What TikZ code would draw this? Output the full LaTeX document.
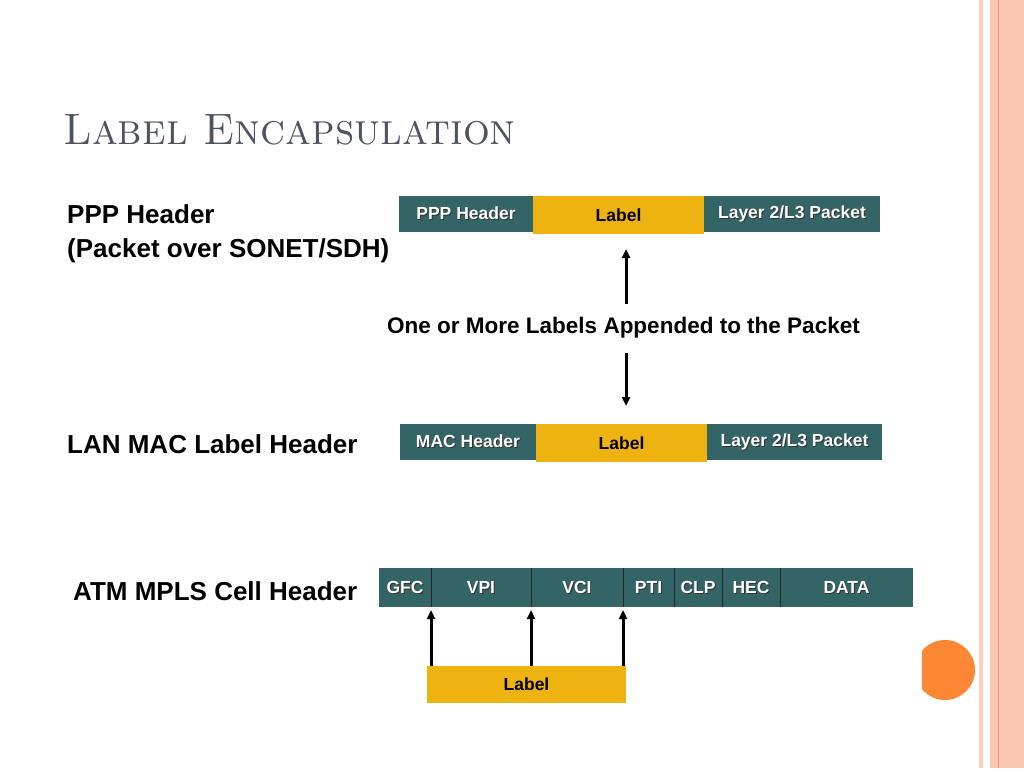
\documentclass[tikz,border=0pt]{standalone}
\usepackage{fontspec}
\usepackage{xcolor}
\usepackage{tikz}
\usetikzlibrary{positioning,arrows.meta}
\newfontfamily\arialfont{Liberation Sans}

\definecolor{hdrteal}{RGB}{52,101,102}
\definecolor{lblgold}{RGB}{238,178,17}
\definecolor{titlegray}{RGB}{78,83,99}
\definecolor{rimpink}{RGB}{252,199,178}
\definecolor{rimlight}{RGB}{251,207,192}
\definecolor{rimline}{RGB}{232,152,122}
\definecolor{dotorange}{RGB}{253,135,52}

\newcommand{\shad}[1]{\makebox[0pt][l]{\hspace{1pt}\raisebox{-1pt}{\textcolor{black!80}{#1}}}#1}

\tikzset{
    hdr/.style={fill=hdrteal, text=white, inner sep=0pt, outer sep=0pt, minimum height=36pt,
                font=\arialfont\bfseries\fontsize{17.5}{20}\selectfont},
    lbl/.style={fill=lblgold, text=black, inner sep=0pt, outer sep=0pt, minimum height=38pt,
                font=\arialfont\bfseries\fontsize{17.5}{20}\selectfont},
    cell/.style={hdr, minimum height=39pt},
    side/.style={anchor=base west, inner sep=0pt, align=left,
                 font=\arialfont\bfseries\fontsize{26}{34}\selectfont},
    arr/.style={line width=3pt, -{Triangle[width=8pt,length=9pt]}}
}

\begin{document}
\begin{tikzpicture}[x=1pt, y=-1pt]
    \useasboundingbox (0,0) rectangle (1024,768);
    \fill[white] (0,0) rectangle (1024,768);

    % right rim of the slide
    \fill[rimlight] (979,0) rectangle (983,768);
    \fill[rimpink] (990,0) rectangle (1024,768);
    \draw[rimline, line width=0.7pt] (998,0) -- (998,768);
    \begin{scope}
        \clip (922,600) rectangle (1000,720);
        \fill[dotorange] (945,670) circle (30);
    \end{scope}

    \node[anchor=base west, inner sep=0pt, text=titlegray, xscale=0.96,
          font=\fontsize{44}{50}\selectfont\scshape] (title) at (63,144) {Label Encapsulation};

    % left captions
    \node[side] (pppcap) at (67,257) {PPP Header\\(Packet over SONET/SDH)};
    \node[side] (maccap) at (67,453) {LAN MAC Label Header};
    \node[side] (atmcap) at (73,600) {ATM MPLS Cell Header};

    % PPP row
    \node[hdr, anchor=north west, minimum width=134pt] (ppp) at (399,196) {\shad{PPP Header}};
    \node[lbl, right=0pt of ppp.north east, anchor=north west, minimum width=171pt] (plab) {Label};
    \node[hdr, right=0pt of plab.north east, anchor=north west, minimum width=176pt] (play) {\shad{Layer 2/L3 Packet}};

    % MAC row
    \node[hdr, anchor=north west, minimum width=136pt] (mac) at (400,424) {\shad{MAC Header}};
    \node[lbl, right=0pt of mac.north east, anchor=north west, minimum width=171pt] (mlab) {Label};
    \node[hdr, right=0pt of mlab.north east, anchor=north west, minimum width=175pt] (mlay) {\shad{Layer 2/L3 Packet}};

    \node[inner sep=0pt, font=\arialfont\bfseries\fontsize{22.5}{26}\selectfont] (append) at (623.5,328) {One or More Labels Appended to the Packet};
    \coordinate (up1) at (626,304);
    \coordinate (up2) at (626,249);
    \coordinate (dn1) at (626,353);
    \coordinate (dn2) at (626,406);
    \draw[arr] (up1) -- (up2);
    \draw[arr] (dn1) -- (dn2);

    % ATM cell row
    \node[cell, anchor=north west, minimum width=52pt] (gfc) at (379,568) {\shad{GFC}};
    \node[cell, right=0pt of gfc.north east, anchor=north west, minimum width=100pt] (vpi) {\shad{VPI}};
    \node[cell, right=0pt of vpi.north east, anchor=north west, minimum width=92pt] (vci) {\shad{VCI}};
    \node[cell, right=0pt of vci.north east, anchor=north west, minimum width=51pt] (pti) {\shad{PTI}};
    \node[cell, right=0pt of pti.north east, anchor=north west, minimum width=48pt] (clp) {\shad{CLP}};
    \node[cell, right=0pt of clp.north east, anchor=north west, minimum width=58pt] (hec) {\shad{HEC}};
    \node[cell, right=0pt of hec.north east, anchor=north west, minimum width=133pt] (data) {\shad{DATA}};
    \foreach \c in {gfc,vpi,vci,pti,clp,hec}{
        \draw[black!85, line width=1pt] (\c.north east) -- (\c.south east);
    }

    \node[lbl, anchor=north west, minimum width=199pt, minimum height=37pt] (alab) at (427,666) {Label};
    \foreach \c in {gfc,vpi,vci}{
        \draw[arr, shorten >=3pt] (alab.north -| \c.east) -- (\c.south east);
    }
\end{tikzpicture}
\end{document}
